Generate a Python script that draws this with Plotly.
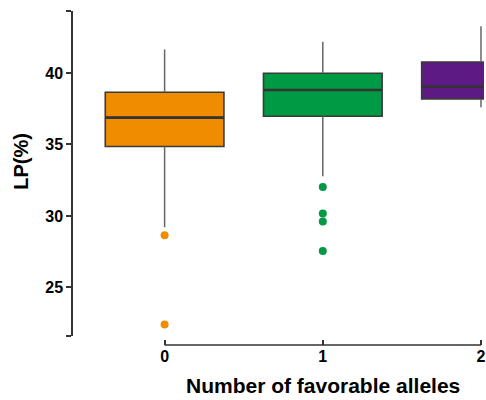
import plotly.graph_objects as go

# ---- data ----
categories = [0, 1, 2]
tick_labels = ["0", "1", "2"]
q1 = [34.86, 36.98, 38.19]
median = [36.88, 38.81, 39.04]
q3 = [38.65, 39.98, 40.77]
lower_whisker = [29.21, 32.77, 37.60]
upper_whisker = [41.65, 42.18, 43.28]
outlier_x = [[0, 0], [1, 1, 1, 1], []]
outlier_y = [[28.65, 22.40], [32.03, 30.17, 29.61, 27.54], []]
colors = ["#F08C00", "#009A44", "#5E1A84"]

# ---- layout constants ----
W, H = 486, 400
ML, MR, MT = 73, 0, 11
MB = H - 345
plot_w = W - ML - MR
plot_h = H - MT - MB
y_range = [21.6, 44.34]
x_range = [-0.579, 2.019]
y_dom0 = 9 / plot_h
BOX_W = 0.75

AX = "#333333"
FONT = "Liberation Sans, Arial, sans-serif"


def px_to_paper_x(px):
    return (px - ML) / plot_w


def px_to_paper_y(py):
    return (H - MB - py) / plot_h


fig = go.Figure()

# whiskers (grey)
for i, c in enumerate(categories):
    fig.add_trace(go.Scatter(
        x=[c, c, None, c, c],
        y=[q3[i], upper_whisker[i], None, q1[i], lower_whisker[i]],
        mode="lines", line=dict(color="#666666", width=1.5),
        hoverinfo="skip", showlegend=False))

# boxes
for i, c in enumerate(categories):
    fig.add_trace(go.Box(
        x=[c], q1=[q1[i]], median=[median[i]], q3=[q3[i]],
        lowerfence=[q1[i]], upperfence=[q3[i]],
        width=BOX_W, fillcolor=colors[i],
        line=dict(color="#3a3a3a", width=1.6),
        whiskerwidth=0, showlegend=False, boxpoints=False))

# thicker median lines
for i, c in enumerate(categories):
    fig.add_trace(go.Scatter(
        x=[c - BOX_W / 2, c + BOX_W / 2], y=[median[i], median[i]],
        mode="lines", line=dict(color="#333333", width=2.6),
        hoverinfo="skip", showlegend=False))

# outliers
for i, c in enumerate(categories):
    if outlier_y[i]:
        fig.add_trace(go.Scatter(
            x=outlier_x[i], y=outlier_y[i], mode="markers",
            marker=dict(color=colors[i], size=8, line=dict(width=0)),
            showlegend=False))

# x axis line from first to last category
fig.add_shape(type="line", xref="x", yref="paper",
              x0=categories[0], x1=categories[-1], y0=0, y1=0,
              line=dict(color=AX, width=1.5))

fig.update_layout(
    width=W, height=H,
    margin=dict(l=ML, r=MR, t=MT, b=MB, pad=0),
    paper_bgcolor="white", plot_bgcolor="white",
    showlegend=False,
    xaxis=dict(range=x_range, anchor="free", position=0,
               showgrid=False, zeroline=False, showline=False,
               tickvals=categories, ticktext=tick_labels,
               ticks="inside", ticklen=5, tickwidth=1.5, tickcolor=AX,
               ticklabeloverflow="allow",
               tickfont=dict(family=FONT, size=16, color="black", weight="bold")),
    yaxis=dict(range=y_range, domain=[y_dom0, 1],
               showgrid=False, zeroline=False,
               showline=True, linecolor=AX, linewidth=1.5,
               tickvals=[21.62, 25, 30, 35, 40, 44.32],
               ticktext=["", "25", "30", "35", "40", ""],
               ticks="outside", ticklen=5, tickwidth=1.5, tickcolor=AX,
               tickfont=dict(family=FONT, size=16, color="black", weight="bold")),
    annotations=[
        dict(text="LP(%)", xref="paper", yref="paper",
             x=px_to_paper_x(20), y=px_to_paper_y(161.5),
             xanchor="center", yanchor="middle", textangle=-90, showarrow=False,
             font=dict(family=FONT, size=20, color="black", weight="bold")),
        dict(text="Number of favorable alleles", xref="x", yref="paper",
             x=1, y=px_to_paper_y(385),
             xanchor="center", yanchor="middle", showarrow=False,
             font=dict(family=FONT, size=21, color="black", weight="bold")),
    ],
)

fig.write_html(
    "out.html",
    config={"displayModeBar": False},
    post_script=(
        "document.documentElement.style.margin='0';"
        "document.body.style.margin='0';"
        "document.body.style.overflow='hidden';"
    ),
)
